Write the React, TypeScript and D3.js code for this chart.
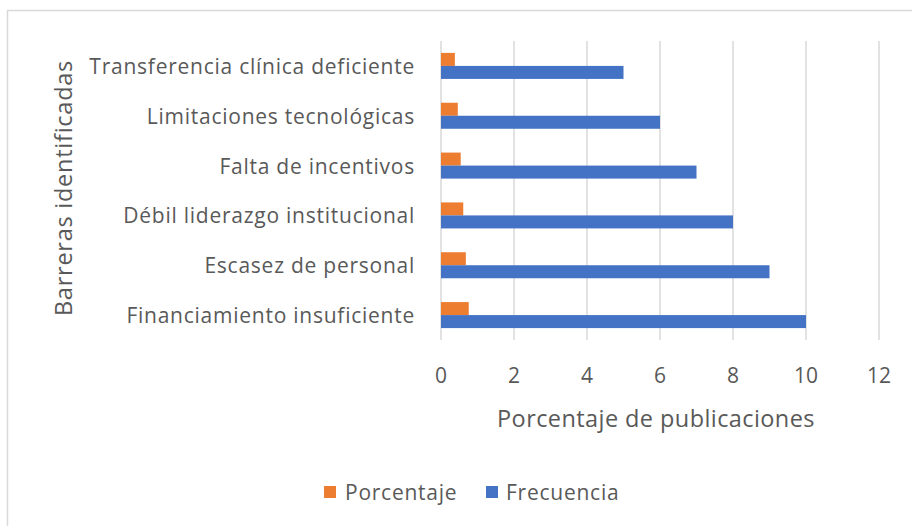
import React from "react";
import * as d3 from "d3";

const categories = [
  "Transferencia clínica deficiente",
  "Limitaciones tecnológicas",
  "Falta de incentivos",
  "Débil liderazgo institucional",
  "Escasez de personal",
  "Financiamiento insuficiente",
];
const frecuencia = [5, 6, 7, 8, 9, 10];
const porcentaje = [0.38, 0.46, 0.54, 0.61, 0.68, 0.76];
const seriesNames = ["Porcentaje", "Frecuencia"];
const seriesColors = ["#ED7D31", "#4472C4"];
const xTicks = [0, 2, 4, 6, 8, 10, 12];

const W = 912;
const H = 526;
const FONT = "'Open Sans', 'Noto Sans', sans-serif";
const TEXT = "#595959";

export default function App() {
  const x = d3.scaleLinear().domain([0, 12]).range([441, 879]);
  const y = d3
    .scaleBand<string>()
    .domain(categories)
    .range([41, 340])
    .paddingInner(0.478)
    .paddingOuter(0.239);
  const inner = d3
    .scaleBand<string>()
    .domain(seriesNames)
    .range([0, y.bandwidth()]);
  const values = [porcentaje, frecuencia];

  return (
    <svg
      width={W}
      height={H}
      style={{ position: "absolute", left: 0, top: 0 }}
      fontFamily={FONT}
    >
      <rect x={0} y={0} width={W} height={H} fill="#fff" />
      <rect x={7.5} y={10.5} width={W + 10} height={H + 10} fill="none" stroke="#d9d9d9" strokeWidth={1.5} />
      {xTicks.map((t) => (
        <line key={t} x1={x(t)} x2={x(t)} y1={41} y2={340} stroke="#d9d9d9" strokeWidth={1.5} />
      ))}
      {categories.map((c, i) => (
        <g key={c}>
          {seriesNames.map((s, k) => (
            <rect
              key={s}
              x={x(0)}
              y={(y(c) as number) + (inner(s) as number)}
              width={x(values[k][i]) - x(0)}
              height={inner.bandwidth()}
              fill={seriesColors[k]}
            />
          ))}
          <text
            x={415}
            y={(y(c) as number) + y.bandwidth() / 2}
            textAnchor="end"
            dominantBaseline="central"
            fontSize={21}
            letterSpacing={0.75}
            fill={TEXT}
          >
            {c}
          </text>
        </g>
      ))}
      {xTicks.map((t) => (
        <text key={t} x={x(t)} y={375} textAnchor="middle" dominantBaseline="central" fontSize={21} fill={TEXT}>
          {t}
        </text>
      ))}
      <text x={656} y={418} textAnchor="middle" dominantBaseline="central" fontSize={23.5} letterSpacing={0.42} fill={TEXT}>
        Porcentaje de publicaciones
      </text>
      <text
        transform={`translate(63,188) rotate(-90)`}
        textAnchor="middle"
        dominantBaseline="central"
        fontSize={23.5}
        letterSpacing={0.75}
        fill={TEXT}
      >
        Barreras identificadas
      </text>
      <g>
        <rect x={324} y={486} width={12} height={12} fill={seriesColors[0]} />
        <text x={345} y={492} dominantBaseline="central" fontSize={21} letterSpacing={0.75} fill={TEXT}>
          {seriesNames[0]}
        </text>
        <rect x={486} y={486} width={12} height={12} fill={seriesColors[1]} />
        <text x={506} y={492} dominantBaseline="central" fontSize={21} letterSpacing={0.75} fill={TEXT}>
          {seriesNames[1]}
        </text>
      </g>
    </svg>
  );
}
